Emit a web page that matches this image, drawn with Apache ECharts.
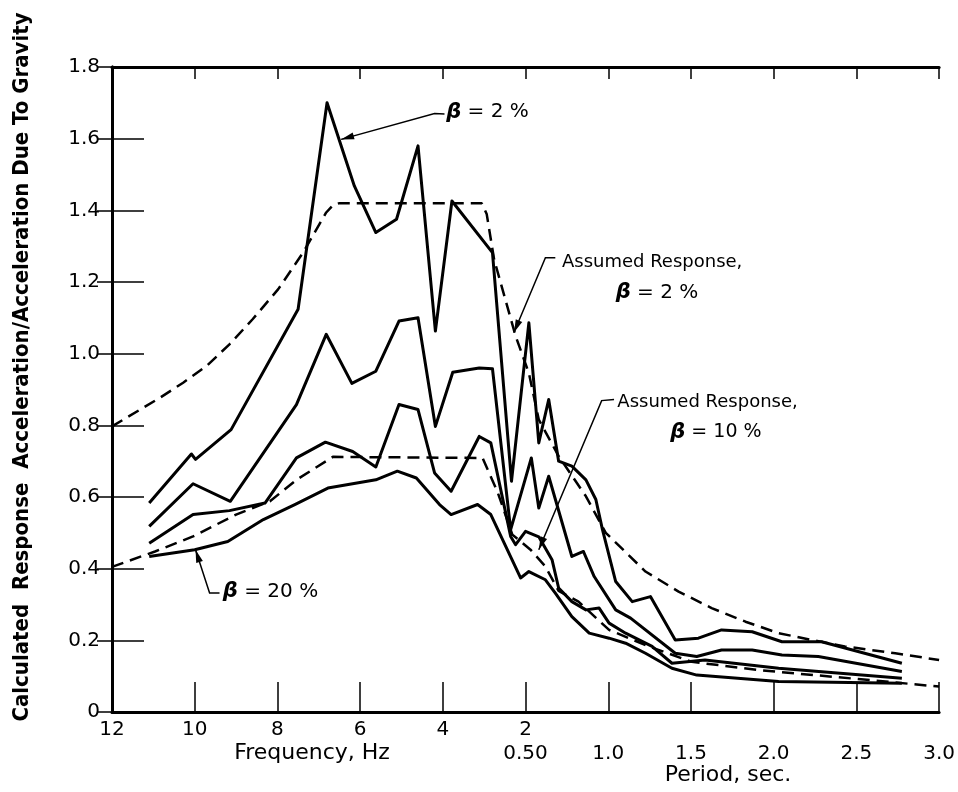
<!DOCTYPE html>
<html>
<head>
<meta charset="utf-8">
<script src="https://cdn.jsdelivr.net/npm/echarts@6/dist/echarts.min.js"></script>
<style>
html, body { margin: 0; padding: 0; background: #fff; }
#main { width: 958px; height: 792px; }
</style>
</head>
<body>
<div id="main"></div>
<script>
// position along the bottom scale: 0..5 = 12..2 Hz, 5..10 = 0.50..3.0 sec
var freqLabels = ['12', '10', '8', '6', '4', '2'];
var periodLabels = ['0.50', '1.0', '1.5', '2.0', '2.5', '3.0'];

// calculated response, [position, Sa/g]
var beta2 = [[0.45,0.583],[0.96,0.72],[1.01,0.705],[1.44,0.788],[2.25,1.124],[2.60,1.70],[2.93,1.468],[3.19,1.338],[3.44,1.375],[3.70,1.58],[3.91,1.063],[4.11,1.426],[4.60,1.282],[4.83,0.644],[5.04,1.086],[5.16,0.751],[5.28,0.872],[5.40,0.70],[5.56,0.686],[5.73,0.648],[5.85,0.593],[5.93,0.509],[6.09,0.364],[6.29,0.308],[6.51,0.322],[6.81,0.201],[7.09,0.206],[7.37,0.229],[7.74,0.224],[8.10,0.196],[8.58,0.196],[9.55,0.136]];
var beta5 = [[0.45,0.518],[0.98,0.637],[1.43,0.588],[2.23,0.858],[2.59,1.054],[2.90,0.917],[3.19,0.951],[3.47,1.091],[3.70,1.100],[3.91,0.797],[4.12,0.948],[4.44,0.960],[4.60,0.958],[4.82,0.509],[5.07,0.709],[5.16,0.569],[5.28,0.658],[5.56,0.434],[5.70,0.448],[5.83,0.378],[6.09,0.285],[6.27,0.262],[6.81,0.164],[7.07,0.155],[7.37,0.173],[7.74,0.173],[8.10,0.159],[8.54,0.155],[9.55,0.113]];
var beta10 = [[0.45,0.471],[0.98,0.551],[1.42,0.562],[1.85,0.583],[2.23,0.709],[2.58,0.753],[2.91,0.727],[3.19,0.684],[3.47,0.858],[3.70,0.844],[3.90,0.667],[4.10,0.616],[4.44,0.769],[4.58,0.751],[4.82,0.49],[4.88,0.467],[5.00,0.504],[5.16,0.489],[5.32,0.425],[5.40,0.346],[5.56,0.308],[5.73,0.285],[5.89,0.29],[6.01,0.248],[6.21,0.22],[6.53,0.183],[6.77,0.136],[7.17,0.145],[8.06,0.122],[9.55,0.094]];
var beta20 = [[0.45,0.434],[1.0,0.453],[1.40,0.476],[1.83,0.537],[2.21,0.579],[2.61,0.625],[3.19,0.648],[3.45,0.672],[3.68,0.653],[3.96,0.579],[4.10,0.551],[4.42,0.579],[4.58,0.551],[4.94,0.374],[5.04,0.392],[5.24,0.369],[5.36,0.332],[5.56,0.266],[5.77,0.22],[6.01,0.206],[6.21,0.192],[6.45,0.164],[6.77,0.122],[7.07,0.103],[8.06,0.085],[9.55,0.08]];

// assumed response (dashed)
var assumed2 = [[0,0.797],[0.58,0.877],[0.86,0.919],[1.14,0.965],[1.42,1.026],[1.70,1.096],[2.01,1.18],[2.31,1.282],[2.59,1.394],[2.67,1.414],[2.75,1.42],[4.47,1.42],[4.53,1.39],[4.62,1.263],[4.88,1.049],[5.04,0.946],[5.16,0.816],[5.40,0.714],[5.73,0.602],[5.97,0.50],[6.45,0.392],[6.85,0.336],[7.25,0.29],[7.66,0.252],[8.06,0.22],[8.46,0.201],[8.86,0.183],[9.47,0.164],[10,0.145]];
var assumed10 = [[0,0.405],[0.52,0.448],[0.98,0.49],[1.50,0.551],[1.91,0.588],[2.23,0.648],[2.67,0.712],[4.48,0.709],[4.66,0.615],[4.84,0.495],[5.06,0.453],[5.24,0.406],[5.40,0.338],[5.64,0.308],[6.01,0.229],[6.49,0.183],[7.01,0.14],[7.82,0.117],[9.02,0.092],[10,0.071]];

var FONT = '"DejaVu Sans", "Liberation Sans", sans-serif';

var chart = echarts.init(document.getElementById('main'));

function solid(name, data) {
    return {
        name: name, type: 'line', data: data, symbol: 'none', animation: false,
        lineStyle: { color: '#000', width: 3, join: 'round' }
    };
}
function dashed(name, data) {
    return {
        name: name, type: 'line', data: data, symbol: 'none', animation: false,
        lineStyle: { color: '#000', width: 2.5, type: [12, 7] }
    };
}

var option = {
    backgroundColor: '#fff',
    animation: false,
    grid: { left: 112, right: 18, top: 67, bottom: 80 },
    xAxis: [
        {
            type: 'value', min: 0, max: 10, interval: 1, position: 'bottom',
            axisLine: { lineStyle: { color: '#000', width: 3 } },
            axisTick: { inside: true, length: 30, lineStyle: { color: '#000', width: 1.5 } },
            splitLine: { show: false },
            axisLabel: {
                margin: 8, color: '#000', fontSize: 20, fontFamily: FONT,
                formatter: function (v) { return freqLabels[v] || ''; }
            }
        },
        {
            type: 'value', min: 0, max: 10, interval: 1, position: 'bottom',
            axisLine: { show: false }, axisTick: { show: false }, splitLine: { show: false },
            axisLabel: {
                margin: 32, color: '#000', fontSize: 20, fontFamily: FONT,
                formatter: function (v) { return v >= 5 ? periodLabels[v - 5] : ''; }
            }
        },
        {
            type: 'value', min: 0, max: 10, interval: 1, position: 'top',
            axisLine: { lineStyle: { color: '#000', width: 3 } },
            axisTick: { inside: true, length: 12, lineStyle: { color: '#000', width: 1.5 } },
            axisLabel: { show: false }, splitLine: { show: false }
        }
    ],
    yAxis: [
        {
            type: 'value', min: 0, max: 1.8, interval: 0.2, position: 'left',
            axisLine: { show: true, lineStyle: { color: '#000', width: 3 } },
            axisTick: { show: true, inside: true, length: 32, lineStyle: { color: '#000', width: 1.5 } },
            splitLine: { show: false },
            axisLabel: {
                margin: 12, color: '#000', fontSize: 20, fontFamily: FONT,
                formatter: function (v) { return v === 0 ? '0' : v.toFixed(1); }
            }
        },
        {
            type: 'value', min: 0, max: 1.8, interval: 0.2, position: 'right',
            axisLine: { show: true, lineStyle: { color: '#000', width: 3 } },
            axisTick: { show: true, inside: true, length: 15, lineStyle: { color: '#000', width: 1.5 } },
            splitLine: { show: false }, axisLabel: { show: false }
        }
    ],
    series: [
        solid('β = 2 %', beta2),
        solid('β = 5 %', beta5),
        solid('β = 10 %', beta10),
        solid('β = 20 %', beta20),
        dashed('Assumed Response, β = 2 %', assumed2),
        dashed('Assumed Response, β = 10 %', assumed10)
    ]
};
chart.setOption(option);

// annotation leaders in data units: hook start, hook end, arrow tip
var notes = [
    { text: '{b|β} = 2 %', size: 20, at: [4.04, 1.674], leader: [[4.02,1.669],[3.90,1.670],[2.77,1.598]] },
    { text: 'Assumed Response,', size: 18, at: [5.44, 1.256], leader: [[5.36,1.268],[5.24,1.268],[4.86,1.059]] },
    { text: '{b|β} = 2 %', size: 20, at: [6.09, 1.171] },
    { text: 'Assumed Response,', size: 18, at: [6.11, 0.864], leader: [[6.07,0.872],[5.92,0.869],[5.16,0.453]] },
    { text: '{b|β} = 10 %', size: 19, at: [6.75, 0.780] },
    { text: '{b|β} = 20 %', size: 20, at: [1.34, 0.336], leader: [[1.30,0.332],[1.18,0.332],[1.01,0.453]] }
];

function toPx(p) { return chart.convertToPixel({ xAxisIndex: 0, yAxisIndex: 0 }, p); }

var graphics = [];
notes.forEach(function (n) {
    var pos = toPx(n.at);
    graphics.push({
        type: 'text', x: pos[0], y: pos[1],
        style: {
            text: n.text, font: n.size + 'px ' + FONT, fill: '#000',
            align: 'left', verticalAlign: 'middle',
            rich: { b: { font: 'italic bold 21px ' + FONT, fill: '#000' } }
        }
    });
    if (n.leader) {
        var pts = n.leader.map(toPx);
        graphics.push({
            type: 'polyline', shape: { points: pts },
            style: { stroke: '#000', lineWidth: 1.5, fill: null }
        });
        var t = pts[pts.length - 1], p = pts[pts.length - 2];
        var dx = t[0] - p[0], dy = t[1] - p[1], len = Math.sqrt(dx * dx + dy * dy);
        dx /= len; dy /= len;
        var L = 13, W = 3.5;
        graphics.push({
            type: 'polygon',
            shape: { points: [t, [t[0] - dx * L - dy * W, t[1] - dy * L + dx * W], [t[0] - dx * L + dy * W, t[1] - dy * L - dx * W]] },
            style: { fill: '#000' }
        });
    }
});

graphics.push({
    type: 'text', x: 312, y: 753,
    style: { text: 'Frequency, Hz', font: '22px ' + FONT, fill: '#000', align: 'center', verticalAlign: 'middle' }
});
graphics.push({
    type: 'text', x: 728, y: 775,
    style: { text: 'Period, sec.', font: '22px ' + FONT, fill: '#000', align: 'center', verticalAlign: 'middle' }
});
graphics.push({
    type: 'text', x: 22, y: 367, rotation: Math.PI / 2,
    style: {
        text: 'Calculated  Response  Acceleration/Acceleration Due To Gravity',
        font: 'bold 22px "DejaVu Sans Condensed", "Liberation Sans Narrow", ' + FONT,
        fill: '#000', align: 'center', verticalAlign: 'middle'
    }
});

chart.setOption({ graphic: graphics });
</script>
</body>
</html>
